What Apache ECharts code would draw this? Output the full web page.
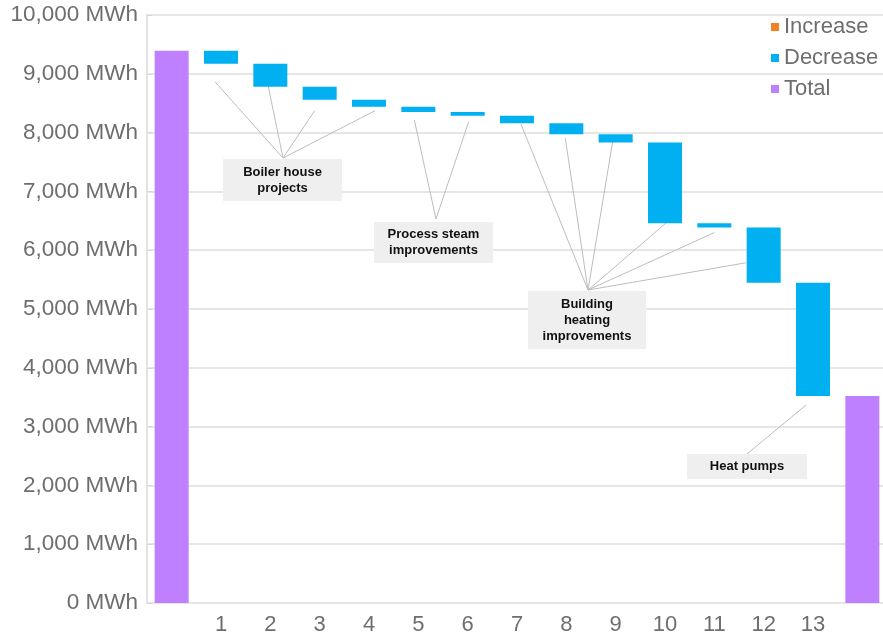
<!DOCTYPE html>
<html>
<head>
<meta charset="utf-8">
<script src="https://cdn.jsdelivr.net/npm/echarts@6/dist/echarts.min.js"></script>
<style>
  html, body { margin: 0; padding: 0; background: #ffffff; overflow: hidden; }
  #chart { width: 892px; height: 639px; }
</style>
</head>
<body>
<div id="chart"></div>
<script>
// Energy savings waterfall: heat demand in MWh, step by step
const categories = ['', '1', '2', '3', '4', '5', '6', '7', '8', '9', '10', '11', '12', '13', ''];
const startTotal = 9390;
const decreases = [220, 390, 220, 120, 90, 65, 125, 190, 140, 1370, 75, 940, 1925];
const increases = [];
const yMin = 0;
const yMax = 10000;
const yStep = 1000;
const unit = 'MWh';
const legendNames = ['Increase', 'Decrease', 'Total'];

// Project groups and which steps they annotate
const groupLabels = ['Boiler house\nprojects', 'Process steam\nimprovements', 'Building\nheating\nimprovements', 'Heat pumps'];
const groupSteps = [[1, 2, 3, 4], [5, 6], [7, 8, 9, 10, 11, 12], [13]];

// Waterfall series built from the running total
const baseData = [];
const decData = [];
const totalData = [];
let running = startTotal;
baseData.push('-');
decData.push('-');
totalData.push(startTotal);
decreases.forEach(function (d) {
  running -= d;
  baseData.push(running);
  decData.push(d);
  totalData.push('-');
});
baseData.push('-');
decData.push('-');
totalData.push(running);
const incData = categories.map(function () { return '-'; });

const textGray = '#6e6e6e';
const fontStack = 'Liberation Sans, Arial, sans-serif';
const chart = echarts.init(document.getElementById('chart'), null, { renderer: 'canvas' });

chart.setOption({
  animation: false,
  backgroundColor: '#ffffff',
  grid: { left: 147, top: 15, width: 740, height: 588, show: true, borderColor: '#e4e4e4', borderWidth: 2, backgroundColor: 'transparent' },
  legend: {
    data: legendNames,
    orient: 'vertical',
    left: 766,
    top: 11,
    icon: 'rect',
    itemWidth: 8,
    itemHeight: 8,
    itemGap: 9,
    textStyle: { fontFamily: fontStack, fontSize: 22, color: textGray },
    selectedMode: false
  },
  xAxis: {
    type: 'category',
    data: categories,
    axisLine: { show: false },
    axisTick: { show: false },
    axisLabel: { color: textGray, fontSize: 22, fontFamily: fontStack, margin: 11, interval: 0 },
    splitLine: { show: false }
  },
  yAxis: {
    type: 'value',
    min: yMin,
    max: yMax,
    interval: yStep,
    axisLine: { show: false },
    axisTick: { show: true, inside: true, length: 5, lineStyle: { color: '#d8d8d8', width: 1 } },
    axisLabel: {
      color: textGray,
      fontSize: 22.5,
      fontFamily: fontStack,
      margin: 9,
      formatter: function (v) { return v.toLocaleString('en-US') + ' ' + unit; }
    },
    splitLine: { lineStyle: { color: '#e6e6e6', width: 2 } }
  },
  series: [
    { name: 'base', type: 'bar', stack: 'w', data: baseData, itemStyle: { color: 'transparent' }, barWidth: 34, silent: true },
    { name: 'Increase', type: 'bar', stack: 'w', data: incData, itemStyle: { color: '#f58220' }, barWidth: 34 },
    { name: 'Decrease', type: 'bar', stack: 'w', data: decData, itemStyle: { color: '#00b0f0' }, barWidth: 34 },
    { name: 'Total', type: 'bar', stack: 'w', data: totalData, itemStyle: { color: '#bf80ff' }, barWidth: 34 }
  ]
});

// Callout boxes (pixel layout) and where their leader lines meet
const boxLayout = [
  { x: 223, y: 159, w: 119, h: 42, hub: [283, 158] },
  { x: 374, y: 222, w: 119, h: 41, hub: [436, 219] },
  { x: 528, y: 291, w: 118, h: 58, hub: [588, 290] },
  { x: 687, y: 454, w: 120, h: 25, hub: [747, 454] }
];
// Small pixel nudges of each leader end relative to its bar's bottom centre
const leaderNudge = {
  1: [-6, 18], 2: [-3, -5], 3: [-5, 11], 4: [6, 4], 5: [-4, 8], 6: [1, 6],
  7: [4, 1], 8: [-1, 4], 9: [-3, -1], 10: [2, -1], 11: [0, 5], 12: [-18, -20], 13: [-7, 9]
};

const graphics = [];
groupSteps.forEach(function (steps, gi) {
  const box = boxLayout[gi];
  steps.forEach(function (idx) {
    const p = chart.convertToPixel({ gridIndex: 0 }, [idx, baseData[idx]]);
    const n = leaderNudge[idx] || [0, 0];
    graphics.push({
      type: 'line', z: 1, silent: true,
      shape: { x1: box.hub[0], y1: box.hub[1], x2: p[0] + n[0], y2: p[1] + n[1] },
      style: { stroke: '#bdbdbd', lineWidth: 1 }
    });
  });
  graphics.push({
    type: 'rect', z: 10, silent: true,
    shape: { x: box.x, y: box.y, width: box.w, height: box.h },
    style: { fill: '#efefef' }
  });
  graphics.push({
    type: 'text', z: 11, silent: true,
    x: box.x + box.w / 2, y: box.y + box.h / 2,
    style: {
      text: groupLabels[gi],
      font: 'bold 13px Liberation Sans, Arial, sans-serif',
      fill: '#111111',
      align: 'center', verticalAlign: 'middle',
      textAlign: 'center', textVerticalAlign: 'middle',
      lineHeight: 16
    }
  });
});
chart.setOption({ graphic: graphics });
</script>
</body>
</html>
